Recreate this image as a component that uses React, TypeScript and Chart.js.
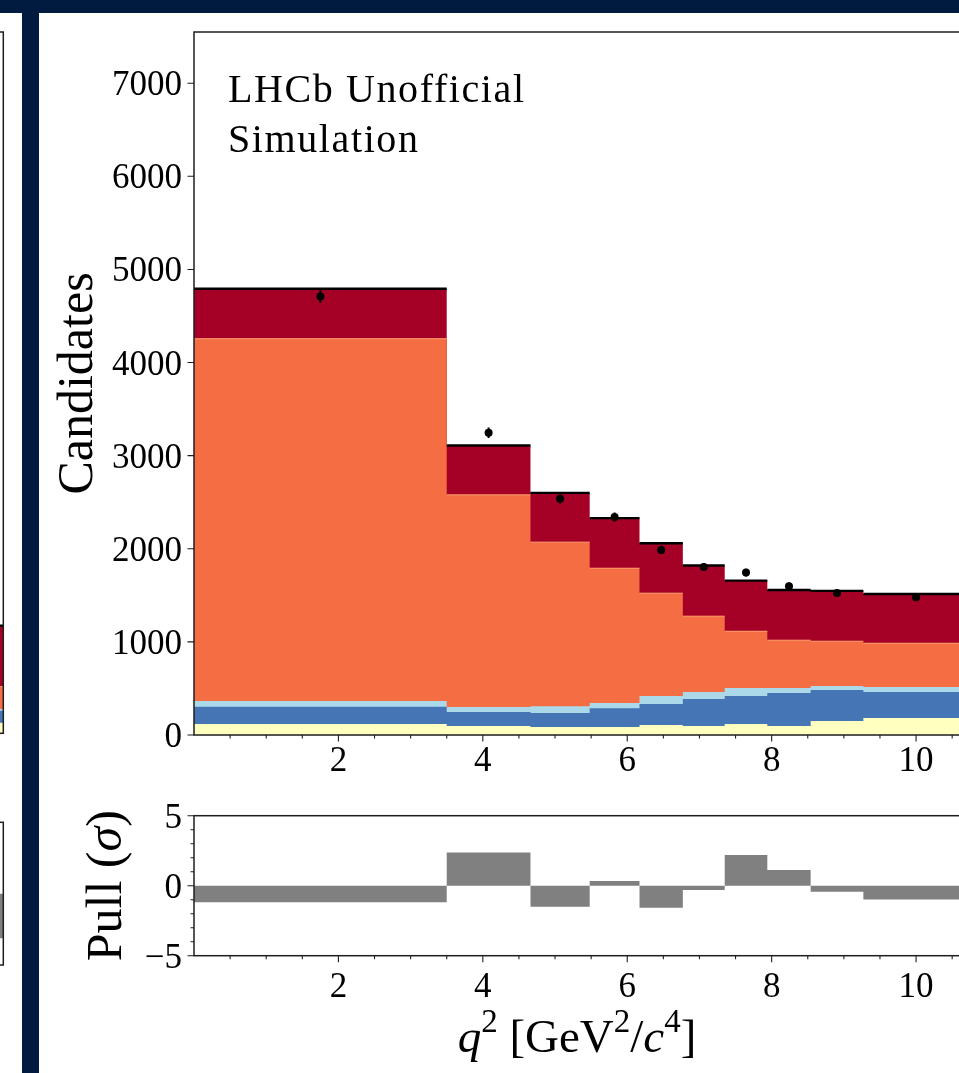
import React, { useEffect, useRef } from "react";
import { Chart, registerables } from "chart.js";

Chart.register(...registerables);

const SERIF = '"Liberation Serif", "Times New Roman", serif';

// q² bin edges [GeV²/c⁴]
const binEdges = [0, 3.5, 4.66, 5.48, 6.17, 6.77, 7.35, 7.94, 8.54, 9.27, 10.73];

// Template yields per bin, stacked from the bottom up
const yellowYield = [118, 97, 86, 86, 107, 97, 118, 97, 150, 183];
const blueYield = [186, 150, 150, 201, 226, 290, 301, 354, 334, 279];
const lightBlueYield = [61, 54, 72, 57, 86, 75, 86, 54, 43, 54];
const orangeYield = [3891, 2278, 1763, 1447, 1104, 814, 609, 513, 480, 469];
const redYield = [537, 530, 529, 538, 537, 544, 544, 540, 541, 530];

// Pseudo-data counts and per-bin pulls
const dataCounts = [4710, 3246, 2536, 2340, 1988, 1805, 1744, 1598, 1526, 1480];
const pullValues = [-1.19, 2.38, -1.5, 0.33, -1.57, -0.31, 2.19, 1.12, -0.43, -0.98];

// Neighbouring panel (only its right-hand edge is in view)
const neighbourEdges = [8.5, 10.7];
const neighbourYellow = [114];
const neighbourBlue = [129];
const neighbourLightBlue = [19];
const neighbourOrange = [240];
const neighbourRed = [656];
const neighbourPulls = [-3.13];

// Axis ticks
const candidateTicks = [0, 1000, 2000, 3000, 4000, 5000, 6000, 7000];
const qTicks = [2, 4, 6, 8, 10];
const pullTicks = [-5, 0, 5];

const qMinorTicks: number[] = [];
for (let v = 0.5; v < 11; v += 0.5) if (!qTicks.includes(v)) qMinorTicks.push(v);
const pullMinorTicks: number[] = [];
for (let v = -4; v <= 4; v += 1) if (!pullTicks.includes(v)) pullMinorTicks.push(v);

const COLOURS = {
  yellow: "#ffffbf",
  blue: "#4575b4",
  lightBlue: "#abd9e9",
  orange: "#f46d43",
  orangeEdge: "#fca570",
  red: "#a50026",
  pull: "#808080",
  axis: "#1e1e1e",
  navy: "#011a3f",
};

type Run = { text: string; italic?: boolean; sup?: boolean };

function runFont(r: Run, size: number) {
  const s = r.sup ? Math.round(size * 0.7) : size;
  return `${r.italic ? "italic " : ""}${s}px ${SERIF}`;
}

// Draws a run of mixed roman / italic / superscript text centred on (x, y)
function drawRuns(ctx: CanvasRenderingContext2D, runs: Run[], size: number, x: number, y: number) {
  let total = 0;
  const widths = runs.map((r) => {
    ctx.font = runFont(r, size);
    const w = ctx.measureText(r.text).width;
    total += w;
    return w;
  });
  let cx = x - total / 2;
  ctx.textAlign = "left";
  ctx.textBaseline = "alphabetic";
  runs.forEach((r, i) => {
    ctx.font = runFont(r, size);
    ctx.fillText(r.text, cx, r.sup ? y - size * 0.42 : y);
    cx += widths[i];
  });
}

function minusLabel(v: number) {
  return v < 0 ? "\u2212" + Math.abs(v) : String(v);
}

type AxisSpec = {
  xMajor: number[];
  xMinor: number[];
  yMajor: number[];
  yMinor: number[];
  labels: boolean;
  xLabelDrop: number;
  yTitle?: Run[];
  yTitleX?: number;
  xTitle?: Run[];
  xTitleDrop?: number;
  banner?: boolean;
};

function axesPlugin(cfg: AxisSpec) {
  return {
    id: "panelAxes",
    afterDraw(chart: any) {
      const { ctx, chartArea: a } = chart;
      const xs = chart.scales.x;
      const ys = chart.scales.y;
      ctx.save();
      ctx.strokeStyle = COLOURS.axis;
      ctx.lineWidth = 1.5;
      ctx.strokeRect(a.left, a.top, a.right - a.left, a.bottom - a.top);

      ctx.lineWidth = 1.1;
      ctx.beginPath();
      cfg.xMajor.forEach((v) => {
        const p = xs.getPixelForValue(v);
        ctx.moveTo(p, a.bottom);
        ctx.lineTo(p, a.bottom + 6.5);
      });
      cfg.xMinor.forEach((v) => {
        const p = xs.getPixelForValue(v);
        ctx.moveTo(p, a.bottom);
        ctx.lineTo(p, a.bottom + 3.5);
      });
      cfg.yMajor.forEach((v) => {
        const p = ys.getPixelForValue(v);
        ctx.moveTo(a.left - 6.5, p);
        ctx.lineTo(a.left, p);
      });
      cfg.yMinor.forEach((v) => {
        const p = ys.getPixelForValue(v);
        ctx.moveTo(a.left - 3.5, p);
        ctx.lineTo(a.left, p);
      });
      ctx.stroke();

      if (cfg.labels) {
        ctx.fillStyle = "#000";
        ctx.font = `35px ${SERIF}`;
        ctx.textBaseline = "alphabetic";
        ctx.textAlign = "center";
        cfg.xMajor.forEach((v) => {
          ctx.fillText(String(v), xs.getPixelForValue(v), a.bottom + cfg.xLabelDrop);
        });
        ctx.textAlign = "right";
        cfg.yMajor.forEach((v) => {
          ctx.fillText(minusLabel(v), a.left - 12, ys.getPixelForValue(v) + 12);
        });

        if (cfg.yTitle) {
          ctx.save();
          ctx.translate(cfg.yTitleX as number, (a.top + a.bottom) / 2);
          ctx.rotate(-Math.PI / 2);
          drawRuns(ctx, cfg.yTitle, 50, 0, 0);
          ctx.restore();
        }
        if (cfg.xTitle) {
          drawRuns(ctx, cfg.xTitle, 47, 577, a.bottom + (cfg.xTitleDrop as number));
        }
        if (cfg.banner) {
          ctx.font = `40px ${SERIF}`;
          ctx.textAlign = "left";
          (ctx as any).letterSpacing = "1.6px";
          ctx.fillText("LHCb Unofficial", 228, 102);
          ctx.fillText("Simulation", 228, 152);
          (ctx as any).letterSpacing = "0px";
        }
      }
      ctx.restore();
    },
  };
}

// Vertical ±√N error bars on the pseudo-data points
function errorBarPlugin(pointsIndex: number, counts: number[]) {
  return {
    id: "poissonErrors",
    beforeDatasetDraw(chart: any, args: any) {
      if (args.index !== pointsIndex) return;
      const { ctx } = chart;
      const ys = chart.scales.y;
      const meta = chart.getDatasetMeta(pointsIndex);
      ctx.save();
      ctx.strokeStyle = "#000";
      ctx.lineWidth = 2;
      ctx.beginPath();
      meta.data.forEach((pt: any, i: number) => {
        const n = counts[i];
        const e = Math.sqrt(n);
        ctx.moveTo(pt.x, ys.getPixelForValue(n + e));
        ctx.lineTo(pt.x, ys.getPixelForValue(n - e));
      });
      ctx.stroke();
      ctx.restore();
    },
  };
}

// One point per left bin edge (plus the closing edge); with stepped "before"
// each bin's value is held until the next edge
function stepPoints(edges: number[], values: number[]) {
  const pts = values.map((v, i) => ({ x: edges[i], y: v }));
  pts.push({ x: edges[edges.length - 1], y: values[values.length - 1] });
  return pts;
}

function segmentPoints(edges: number[], values: number[]) {
  const pts: { x: number; y: number | null }[] = [];
  values.forEach((v, i) => {
    pts.push({ x: edges[i], y: v }, { x: edges[i + 1], y: v }, { x: edges[i + 1], y: null });
  });
  return pts;
}

type Box = { left: number; top: number; width: number; height: number; pad: { left: number; top: number; right: number; bottom: number } };

type PanelSpec = {
  edges: number[];
  layers: number[][];
  counts: number[];
  pulls: number[];
  xMax: number;
  yMax: number;
  labels: boolean;
  main: Box;
  pull: Box;
};

const LAYER_COLOURS = [COLOURS.yellow, COLOURS.blue, COLOURS.lightBlue, COLOURS.orange, COLOURS.red];

function mainConfig(spec: PanelSpec): any {
  const n = spec.layers[0].length;
  const tops: number[][] = [];
  let acc = new Array(n).fill(0);
  spec.layers.forEach((layer) => {
    acc = acc.map((a: number, i: number) => a + layer[i]);
    tops.push(acc);
  });
  const totals = tops[tops.length - 1];
  const centres = spec.counts.map((_, i) => (spec.edges[i] + spec.edges[i + 1]) / 2);

  const layerSets = tops.map((t, k) => ({
    data: stepPoints(spec.edges, t),
    stepped: "before",
    fill: "origin",
    backgroundColor: LAYER_COLOURS[k],
    borderColor: "rgba(0,0,0,0)",
    borderWidth: 0,
    pointRadius: 0,
    order: k + 1,
  }));

  const datasets: any[] = [
    ...layerSets,
    {
      data: segmentPoints(spec.edges, tops[3]),
      borderColor: COLOURS.orangeEdge,
      borderWidth: 1,
      pointRadius: 0,
      fill: false,
      spanGaps: false,
      order: 0,
    },
    {
      data: segmentPoints(spec.edges, totals),
      borderColor: "#000",
      borderWidth: 2.4,
      pointRadius: 0,
      fill: false,
      spanGaps: false,
      order: -1,
    },
    {
      data: centres.map((x, i) => ({ x, y: spec.counts[i] })),
      showLine: false,
      pointRadius: 4,
      pointBackgroundColor: "#000",
      pointBorderWidth: 0,
      fill: false,
      order: -2,
    },
  ];
  const pointsIndex = datasets.length - 1;

  return {
    type: "line",
    data: { datasets },
    options: {
      responsive: false,
      animation: false,
      events: [],
      layout: { padding: spec.main.pad },
      plugins: { legend: { display: false }, tooltip: { enabled: false } },
      scales: {
        x: { type: "linear", min: 0, max: spec.xMax, display: false },
        y: { type: "linear", min: 0, max: spec.yMax, display: false },
      },
    },
    plugins: [
      errorBarPlugin(pointsIndex, spec.counts),
      axesPlugin({
        xMajor: spec.labels ? qTicks : [],
        xMinor: spec.labels ? qMinorTicks : [],
        yMajor: spec.labels ? candidateTicks : [],
        yMinor: [],
        labels: spec.labels,
        xLabelDrop: 36,
        yTitle: [{ text: "Candidates" }],
        yTitleX: 92,
        banner: true,
      }),
    ],
  };
}

function pullConfig(spec: PanelSpec): any {
  return {
    type: "line",
    data: {
      datasets: [
        {
          data: stepPoints(spec.edges, spec.pulls),
          stepped: "before",
          fill: "origin",
          backgroundColor: COLOURS.pull,
          borderColor: "rgba(0,0,0,0)",
          borderWidth: 0,
          pointRadius: 0,
        },
      ],
    },
    options: {
      responsive: false,
      animation: false,
      events: [],
      layout: { padding: spec.pull.pad },
      plugins: { legend: { display: false }, tooltip: { enabled: false } },
      scales: {
        x: { type: "linear", min: 0, max: spec.xMax, display: false },
        y: { type: "linear", min: -5, max: 5, display: false },
      },
    },
    plugins: [
      axesPlugin({
        xMajor: spec.labels ? qTicks : [],
        xMinor: spec.labels ? qMinorTicks : [],
        yMajor: spec.labels ? pullTicks : [],
        yMinor: spec.labels ? pullMinorTicks : [],
        labels: spec.labels,
        xLabelDrop: 41,
        yTitle: [{ text: "Pull (" }, { text: "σ", italic: true }, { text: ")" }],
        yTitleX: 121,
        xTitle: [
          { text: "q", italic: true },
          { text: "2", sup: true },
          { text: " [GeV" },
          { text: "2", sup: true },
          { text: "/" },
          { text: "c", italic: true },
          { text: "4", sup: true },
          { text: "]" },
        ],
        xTitleDrop: 96,
      }),
    ],
  };
}

const mainPanel: PanelSpec = {
  edges: binEdges,
  layers: [yellowYield, blueYield, lightBlueYield, orangeYield, redYield],
  counts: dataCounts,
  pulls: pullValues,
  xMax: 10.65,
  yMax: 7550,
  labels: true,
  main: { left: 0, top: 0, width: 975, height: 800, pad: { left: 194, top: 32, right: 12, bottom: 65 } },
  pull: { left: 0, top: 780, width: 975, height: 293, pad: { left: 194, top: 35.7, right: 12, bottom: 117.3 } },
};

const neighbourPanel: PanelSpec = {
  edges: neighbourEdges,
  layers: [neighbourYellow, neighbourBlue, neighbourLightBlue, neighbourOrange, neighbourRed],
  counts: [],
  pulls: neighbourPulls,
  xMax: 10.7,
  yMax: 7550,
  labels: false,
  main: { left: -197, top: 0, width: 210, height: 800, pad: { left: 10, top: 32, right: 9.7, bottom: 66.7 } },
  pull: { left: -197, top: 780, width: 210, height: 293, pad: { left: 10, top: 42.3, right: 9.7, bottom: 108 } },
};

function HistPanel({ spec }: { spec: PanelSpec }) {
  const mainRef = useRef<HTMLCanvasElement | null>(null);
  const pullRef = useRef<HTMLCanvasElement | null>(null);

  useEffect(() => {
    const main = new Chart(mainRef.current as HTMLCanvasElement, mainConfig(spec));
    const pull = new Chart(pullRef.current as HTMLCanvasElement, pullConfig(spec));
    return () => {
      main.destroy();
      pull.destroy();
    };
  }, [spec]);

  const style = (b: Box): React.CSSProperties => ({
    position: "absolute",
    left: b.left,
    top: b.top,
    width: b.width,
    height: b.height,
  });

  return (
    <>
      <canvas ref={mainRef} width={spec.main.width} height={spec.main.height} style={style(spec.main)} />
      <canvas ref={pullRef} width={spec.pull.width} height={spec.pull.height} style={style(spec.pull)} />
    </>
  );
}

export default function App() {
  return (
    <div
      style={{
        position: "fixed",
        left: 0,
        top: 0,
        width: 959,
        height: 1073,
        overflow: "hidden",
        background: "#ffffff",
      }}
    >
      <HistPanel spec={neighbourPanel} />
      <HistPanel spec={mainPanel} />
      <div style={{ position: "absolute", left: 0, top: 0, width: 959, height: 13, background: COLOURS.navy, zIndex: 2 }} />
      <div style={{ position: "absolute", left: 22, top: 0, width: 17, height: 1073, background: COLOURS.navy, zIndex: 2 }} />
    </div>
  );
}
